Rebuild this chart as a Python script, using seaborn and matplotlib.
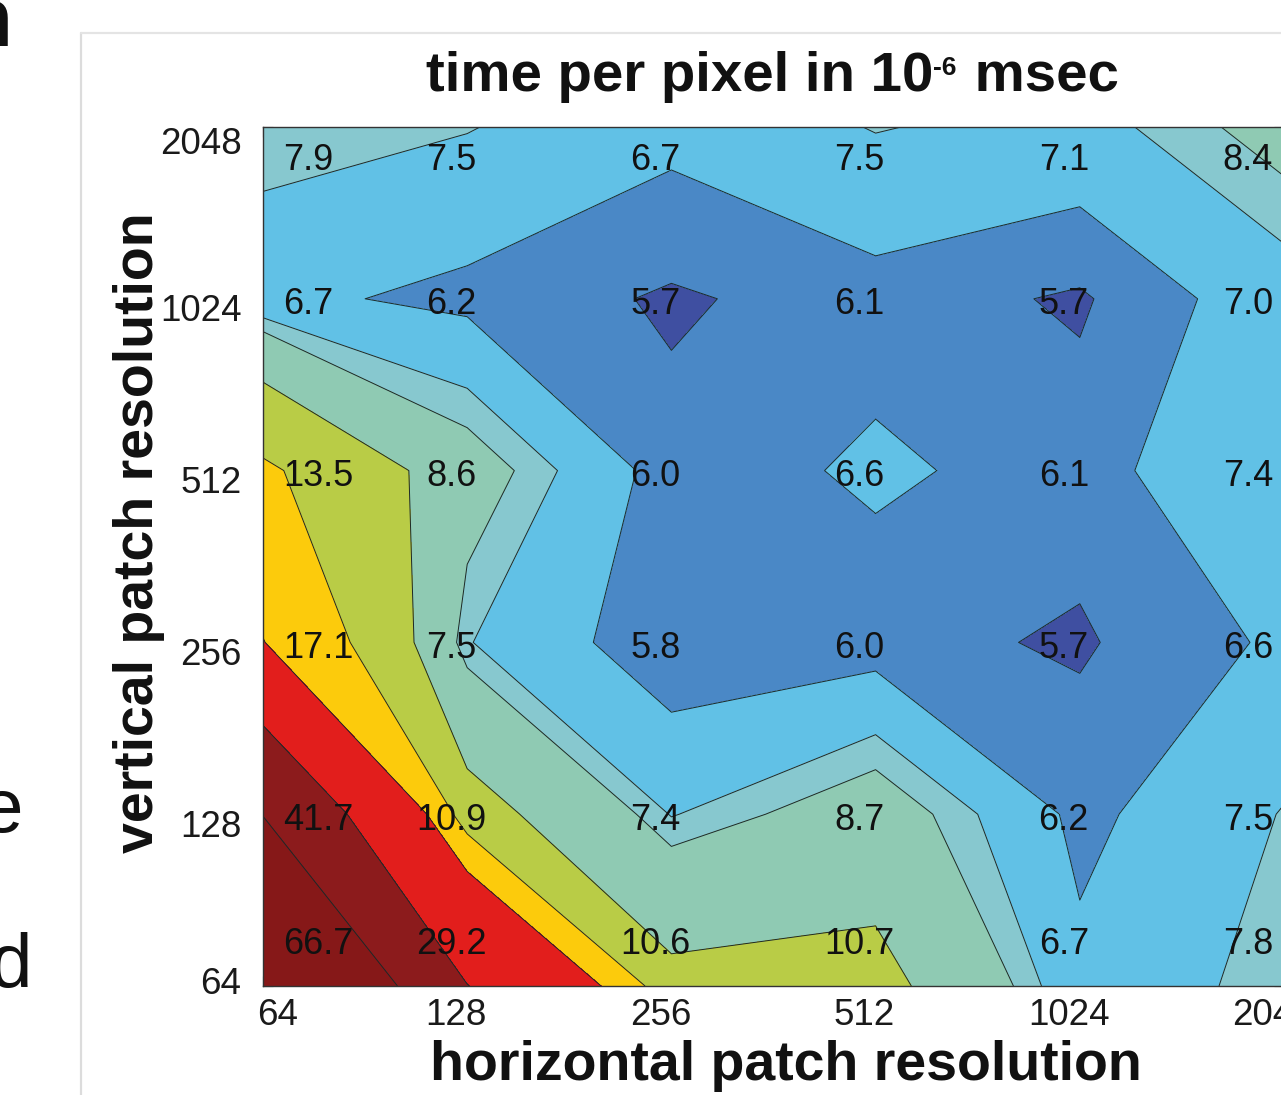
import numpy as np
import pandas as pd
import matplotlib
matplotlib.use("Agg")
import matplotlib.pyplot as plt
import seaborn as sns
from matplotlib.lines import Line2D
from matplotlib.transforms import ScaledTranslation

# ---------------- data ----------------
h_res = [64, 128, 256, 512, 1024, 2048]
v_res = [64, 128, 256, 512, 1024, 2048]
# time per pixel (1e-6 msec); one list per vertical resolution (rows), columns follow h_res
t_v64 = [66.7, 29.2, 10.6, 10.7, 6.7, 7.8]
t_v128 = [41.7, 10.9, 7.4, 8.7, 6.2, 7.5]
t_v256 = [17.1, 7.5, 5.8, 6.0, 5.7, 6.6]
t_v512 = [13.5, 8.6, 6.0, 6.6, 6.1, 7.4]
t_v1024 = [6.7, 6.2, 5.7, 6.1, 5.7, 7.0]
t_v2048 = [7.9, 7.5, 6.7, 7.5, 7.1, 8.4]
tick_labels = ["64", "128", "256", "512", "1024", "2048"]

title_main = "time per pixel in 10"
title_sup = "-6"
title_tail = " msec"
xlabel_txt = "horizontal patch resolution"
ylabel_txt = "vertical patch resolution"

# contour levels and band colours
levels = [5.0, 5.79, 6.45, 7.45, 8.0, 10.0, 13.0, 17.0, 29.0, 42.0, 70.0]
band_colors = ["#3f4fa1", "#4a88c6", "#61c1e6", "#87c8cf", "#8fcab3",
               "#b9cc46", "#fccb0c", "#e21e1c", "#8c1b1c", "#861818"]

# ---------------- style ----------------
sns.set_theme(style="white")
plt.rcParams["font.family"] = ["Liberation Sans", "DejaVu Sans"]

W, H = 1281, 1095
fig = plt.figure(figsize=(W / 100, H / 100), dpi=100)
fig.patch.set_facecolor("white")


def fx(px):
    return px / W


def fy(py):
    return 1 - py / H


L, R, T, B = 263, 1284, 127, 986
ax = fig.add_axes([fx(L), fy(B), (R - L) / W, (B - T) / H])

df = pd.DataFrame([t_v64, t_v128, t_v256, t_v512, t_v1024, t_v2048],
                  index=v_res, columns=h_res)
X = np.log2(np.array(df.columns, dtype=float))
Y = np.log2(np.array(df.index, dtype=float))
Z = df.values

ax.contourf(X, Y, Z, levels=levels, colors=band_colors)
ax.contour(X, Y, Z, levels=levels[1:-1], colors="#1c2828", linewidths=0.7)

# value labels
nr, nc = Z.shape
for i in range(nr):
    for j in range(nc):
        if j == 0:
            dx, ha = 20, "left"
        elif j == nc - 1:
            dx, ha = -36, "center"
        else:
            dx, ha = -16, "center"
        if i == 0:
            dy = 41
        elif i == nr - 1:
            dy = -33
        else:
            dy = -6
        ax.annotate(f"{Z[i, j]:.1f}", xy=(X[j], Y[i]), xytext=(dx, dy),
                    textcoords="offset pixels", ha=ha, va="center",
                    fontsize=26, color="#111111", annotation_clip=False)

ax.set_xlim(X[0], X[-1])
ax.set_ylim(Y[0], Y[-1])
ax.set_xticks(X)
ax.set_xticklabels(tick_labels)
ax.set_yticks(Y)
ax.set_yticklabels(tick_labels)
ax.set_xticks(X[:-1] + 0.5, minor=True)
ax.set_yticks(Y[:-1] + 0.5, minor=True)
ax.tick_params(which="both", direction="in", length=7, width=0.8,
               color="#333333", top=True, right=True, bottom=True, left=True)
ax.tick_params(axis="x", which="major", labelsize=26.5, pad=8.5, labelcolor="#1a1a1a")
ax.tick_params(axis="y", which="major", labelsize=26.5, pad=15.5, labelcolor="#1a1a1a")
for sp in ax.spines.values():
    sp.set_visible(True)
    sp.set_color("#333333")
    sp.set_linewidth(1.0)

# small per-label nudges to mimic the original label placement
for k, lab in enumerate(ax.get_yticklabels()):
    shift = 6 / 100 if k == 0 else -9 / 100
    if k == len(tick_labels) - 1:
        shift = -14 / 100
    lab.set_transform(lab.get_transform() + ScaledTranslation(0, shift, fig.dpi_scale_trans))
for k, lab in enumerate(ax.get_xticklabels()):
    if k == 0:
        lab.set_ha("left")
        shift = -6 / 100
    else:
        shift = -11 / 100
    lab.set_transform(lab.get_transform() + ScaledTranslation(shift, 0, fig.dpi_scale_trans))

ax.set_xlabel(xlabel_txt, fontsize=40, fontweight="bold", color="#111111")
ax.xaxis.label.set_va("baseline")
ax.xaxis.set_label_coords((786 - L) / (R - L), (B - 1080) / (B - T))
ax.set_ylabel(ylabel_txt, fontsize=40, fontweight="bold", color="#111111")
ax.yaxis.label.set_va("baseline")
ax.yaxis.set_label_coords((153 - L) / (R - L), (B - 533) / (B - T))

# title with a small superscript exponent, composed from three text pieces
renderer = fig.canvas.get_renderer()
title_kw = dict(fontweight="bold", va="baseline", ha="left", color="#111111")
pieces = [(title_main, 40.6, 0), (title_sup, 19, 16), (title_tail, 40.6, 0)]
widths = []
for txt, size, _ in pieces:
    t = fig.text(0, 0, txt, fontsize=size, **title_kw)
    widths.append(t.get_window_extent(renderer).width)
    t.remove()
x_cur = 771 - sum(widths) / 2
for (txt, size, rise), w in zip(pieces, widths):
    fig.text(fx(x_cur), fy(91 - rise), txt, fontsize=size, **title_kw)
    x_cur += w + (2 if size < 30 else 0)

# card border of the cropped figure panel
fig.add_artist(Line2D([fx(81), fx(81)], [fy(33), fy(H)], color="#dcdcdc", lw=1.6))
fig.add_artist(Line2D([fx(81), fx(W)], [fy(33), fy(33)], color="#e4e4e4", lw=1.6))

# fragments of surrounding page text
fig.text(fx(12), fy(46), "n", fontsize=60, fontweight="bold", ha="right",
         va="baseline", color="#111111")
fig.text(fx(23), fy(832), "e", fontsize=55, ha="right", va="baseline", color="#111111")
fig.text(fx(32), fy(987), "d", fontsize=55, ha="right", va="baseline", color="#111111")

fig.savefig("out.png", dpi=100)
